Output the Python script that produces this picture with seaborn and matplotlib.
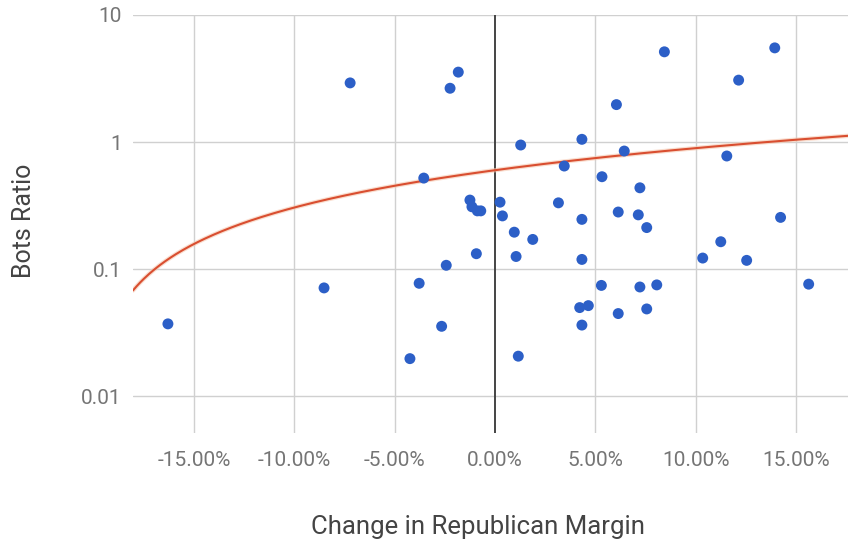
import numpy as np
import pandas as pd
import matplotlib
matplotlib.use("Agg")
import matplotlib.pyplot as plt
import seaborn as sns

# Change in Republican margin (percentage points) per state
margin_change = [
    -16.3, -8.52, -7.22, -2.24, -1.83, -3.55, 1.28, 4.33, 3.45, 8.44,
    6.05, 13.94, 12.14, 11.55, 14.23, 11.25, 10.35, 12.54, 15.63, 6.44,
    5.33, 7.22, 3.16, 4.33, 6.14, 7.14, 7.56, -1.25, -1.15, -0.88,
    -0.71, 0.25, 0.37, 0.96, 1.88, -0.93, 1.05, -2.43, -3.78, 4.33,
    -2.66, -4.24, 1.16, 4.22, 4.65, 4.33, 5.30, 7.22, 8.06, 6.14,
    7.56,
]
# Ratio of bot accounts per state
bots_ratio = [
    0.037, 0.071, 2.92, 2.65, 3.55, 0.52, 0.947, 1.05, 0.647, 5.13,
    1.97, 5.51, 3.07, 0.776, 0.255, 0.164, 0.122, 0.117, 0.076, 0.849,
    0.533, 0.436, 0.332, 0.246, 0.281, 0.267, 0.212, 0.349, 0.309, 0.287,
    0.287, 0.336, 0.262, 0.195, 0.171, 0.132, 0.1255, 0.107, 0.0772, 0.119,
    0.0354, 0.0197, 0.0206, 0.0497, 0.0515, 0.0362, 0.0743, 0.0722, 0.075, 0.0446,
    0.0485,
]
# Linear trendline: ratio = intercept + slope * margin change
trend_intercept = 0.60
trend_slope = 0.0295

x_ticks = [-15, -10, -5, 0, 5, 10, 15]
x_tick_labels = ["-15.00%", "-10.00%", "-5.00%", "0.00%", "5.00%", "10.00%", "15.00%"]
y_ticks = [0.01, 0.1, 1, 10]
y_tick_labels = ["0.01", "0.1", "1", "10"]

df = pd.DataFrame({"margin": margin_change, "ratio": bots_ratio})

sns.set_theme(style="white")
plt.rcParams["font.family"] = ["Roboto", "DejaVu Sans"]

W, H = 848, 547
fig = plt.figure(figsize=(W / 100, H / 100), dpi=100)
ax = fig.add_axes([133 / W, (H - 433) / H, (W - 133) / W, (433 - 15) / H])

x_min, x_max = -18.04, 17.59
y_min, y_max = 10 ** -2.291, 10

ax.set_yscale("log")
ax.set_xlim(x_min, x_max)
ax.set_ylim(y_min, y_max)

# Grid
for t in y_ticks:
    ax.axhline(t, color="#d0d0d0", lw=1.0, zorder=0)
for t in x_ticks:
    if t == 0:
        ax.axvline(t, color="#444444", lw=1.4, zorder=1)
    else:
        ax.axvline(t, color="#d0d0d0", lw=1.0, zorder=0)

# Trendline
tx = np.linspace(x_min, x_max, 400)
ty = trend_intercept + trend_slope * tx
ax.plot(tx, ty, color="#f6c8b0", lw=3.2, alpha=0.6, zorder=2, solid_capstyle="round")
ax.plot(tx, ty, color="#d94e30", lw=1.5, zorder=3)

sns.scatterplot(data=df, x="margin", y="ratio", ax=ax, color="#2c5fc7",
                s=62, edgecolor="none", linewidth=0, zorder=4, legend=False)

ax.set_xticks(x_ticks)
ax.set_xticklabels(x_tick_labels)
ax.set_yticks(y_ticks)
ax.set_yticklabels(y_tick_labels)
ax.minorticks_off()
ax.tick_params(axis="x", length=0, pad=13, labelsize=15, labelcolor="#757575")
ax.tick_params(axis="y", length=0, pad=8, labelsize=15, labelcolor="#757575")
for s in ax.spines.values():
    s.set_visible(False)
ax.grid(False)

ax.set_xlabel("")
ax.set_ylabel("")
fig.text(478 / W, 1 - 527 / H, "Change in Republican Margin", ha="center", va="center",
         fontsize=18.5, color="#444444")
fig.text(24 / W, 1 - 221 / H, "Bots Ratio", ha="center", va="center", rotation=90,
         fontsize=18, color="#444444")

fig.savefig("out.png", dpi=100, facecolor="white")
